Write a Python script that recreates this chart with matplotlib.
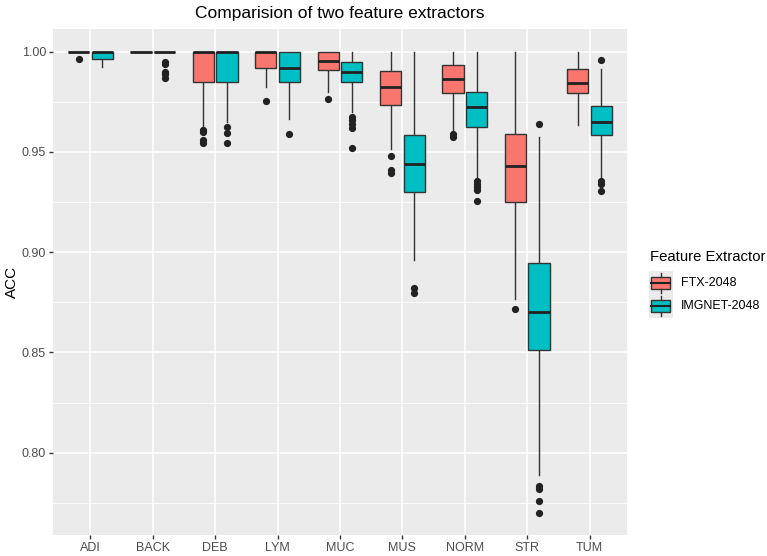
import numpy as np
import matplotlib
matplotlib.use("Agg")
import matplotlib.pyplot as plt
from matplotlib.patches import Rectangle

plt.rcParams["font.family"] = ["Liberation Sans", "DejaVu Sans"]

categories = ["ADI", "BACK", "DEB", "LYM", "MUC", "MUS", "NORM", "STR", "TUM"]
groups = ["FTX-2048", "IMGNET-2048"]
colors = ["#F8766D", "#00BFC4"]

# box stats, one list per statistic
ftx_whislo = [1.000, 1.000, 0.9618, 0.9823, 0.9798, 0.9513, 0.961, 0.8766, 0.9635]
ftx_q1 = [1.000, 1.000, 0.985, 0.992, 0.9909, 0.9733, 0.9796, 0.9249, 0.9796]
ftx_med = [1.000, 1.000, 1.000, 1.000, 0.9954, 0.9823, 0.9864, 0.943, 0.9845]
ftx_q3 = [1.000, 1.000, 1.000, 1.000, 1.000, 0.9904, 0.9934, 0.9591, 0.9914]
ftx_whishi = [1.000, 1.000, 1.000, 1.000, 1.000, 1.000, 1.000, 1.000, 1.000]
ftx_fliers = [
    [0.9962],
    [],
    [0.961, 0.9597, 0.956, 0.9543],
    [0.9756],
    [0.9764],
    [0.948, 0.941, 0.9394],
    [0.9588, 0.9576],
    [0.8719],
    [],
]

img_whislo = [0.9922, 1.000, 0.965, 0.9663, 0.970, 0.8962, 0.9377, 0.789, 0.9369]
img_q1 = [0.9962, 1.000, 0.985, 0.985, 0.9849, 0.930, 0.9626, 0.851, 0.9585]
img_med = [1.000, 1.000, 1.000, 0.992, 0.990, 0.944, 0.9726, 0.870, 0.965]
img_q3 = [1.000, 1.000, 1.000, 1.000, 0.995, 0.9586, 0.980, 0.8945, 0.9731]
img_whishi = [1.000, 1.000, 1.000, 1.000, 1.000, 1.000, 1.000, 0.9573, 0.9914]
img_fliers = [
    [],
    [0.995, 0.994, 0.990, 0.989, 0.987],
    [0.9626, 0.9593, 0.9546],
    [0.9591],
    [0.9676, 0.966, 0.964, 0.9618, 0.9518],
    [0.8821, 0.8796],
    [0.9357, 0.934, 0.9327, 0.931, 0.9256],
    [0.964, 0.7835, 0.7819, 0.7762, 0.770],
    [0.9959, 0.9357, 0.934, 0.9306],
]


def make_stats(lo, q1, med, q3, hi, fl):
    return [dict(whislo=a, q1=b, med=c, q3=d, whishi=e, fliers=f)
            for a, b, c, d, e, f in zip(lo, q1, med, q3, hi, fl)]


all_stats = [
    make_stats(ftx_whislo, ftx_q1, ftx_med, ftx_q3, ftx_whishi, ftx_fliers),
    make_stats(img_whislo, img_q1, img_med, img_q3, img_whishi, img_fliers),
]

fig = plt.figure(figsize=(7.67, 5.56), dpi=100)
ax = fig.add_axes([53 / 767, 1 - 535 / 556, 574 / 767, 506 / 556])
ax.set_facecolor("#EBEBEB")

x = np.arange(1, len(categories) + 1)
offsets = [-0.19, 0.19]
edge = "#333333"
for stats, off, col in zip(all_stats, offsets, colors):
    bp = ax.bxp(stats, positions=x + off, widths=0.34, patch_artist=True,
                showcaps=False, manage_ticks=False,
                boxprops=dict(facecolor=col, edgecolor=edge, linewidth=1.0),
                medianprops=dict(color="#222222", linewidth=2.0),
                whiskerprops=dict(color=edge, linewidth=1.0),
                flierprops=dict(marker="o", markersize=4.2, markerfacecolor="#222222",
                                markeredgecolor="#222222"))
    for b in bp["boxes"]:
        b.set_zorder(3)
    for m in bp["medians"]:
        m.set_zorder(4)

ax.set_xlim(0.4, 9.6)
ax.set_ylim(0.759, 1.0113)
ax.set_xticks(x)
ax.set_xticklabels(categories)
ax.set_yticks([0.80, 0.85, 0.90, 0.95, 1.00])
ax.set_yticklabels(["0.80", "0.85", "0.90", "0.95", "1.00"])
ax.set_yticks([0.775, 0.825, 0.875, 0.925, 0.975], minor=True)
ax.grid(True, which="major", color="white", linewidth=1.1)
ax.grid(True, which="minor", axis="y", color="white", linewidth=0.55)
ax.set_axisbelow(True)
for s in ax.spines.values():
    s.set_visible(False)
ax.tick_params(axis="both", which="major", length=3, width=1, color="#333333",
               labelcolor="#4D4D4D", labelsize=9, pad=2)
ax.tick_params(which="minor", length=0)
fig.text(12 / 767, 1 - 282 / 556, "ACC", fontsize=11, rotation=90,
         va="center", ha="center")
ax.set_title("Comparision of two feature extractors", fontsize=12.5, pad=8)

# legend in ggplot style
fig.text(650 / 767, 1 - 257 / 556, "Feature Extractor", fontsize=10.7,
         va="center", ha="left")
for i, (g, col) in enumerate(zip(groups, colors)):
    top = 271 + i * 23.5
    kax = fig.add_axes([649 / 767, 1 - (top + 23.5) / 556, 23.5 / 767, 23.5 / 556])
    kax.set_xlim(0, 1)
    kax.set_ylim(0, 1)
    kax.axis("off")
    kax.add_patch(Rectangle((0, 0), 1, 1, facecolor="#EBEBEB", edgecolor="none"))
    kax.add_patch(Rectangle((0.1, 0.25), 0.8, 0.5, facecolor=col, edgecolor=edge, lw=1.0))
    kax.plot([0.1, 0.9], [0.5, 0.5], color="#222222", lw=1.5)
    kax.plot([0.5, 0.5], [0.08, 0.25], color=edge, lw=1.0)
    kax.plot([0.5, 0.5], [0.75, 0.92], color=edge, lw=1.0)
    fig.text(681 / 767, 1 - (top + 11.5) / 556, g, fontsize=9, va="center", ha="left")

fig.savefig("out.png", dpi=100)
